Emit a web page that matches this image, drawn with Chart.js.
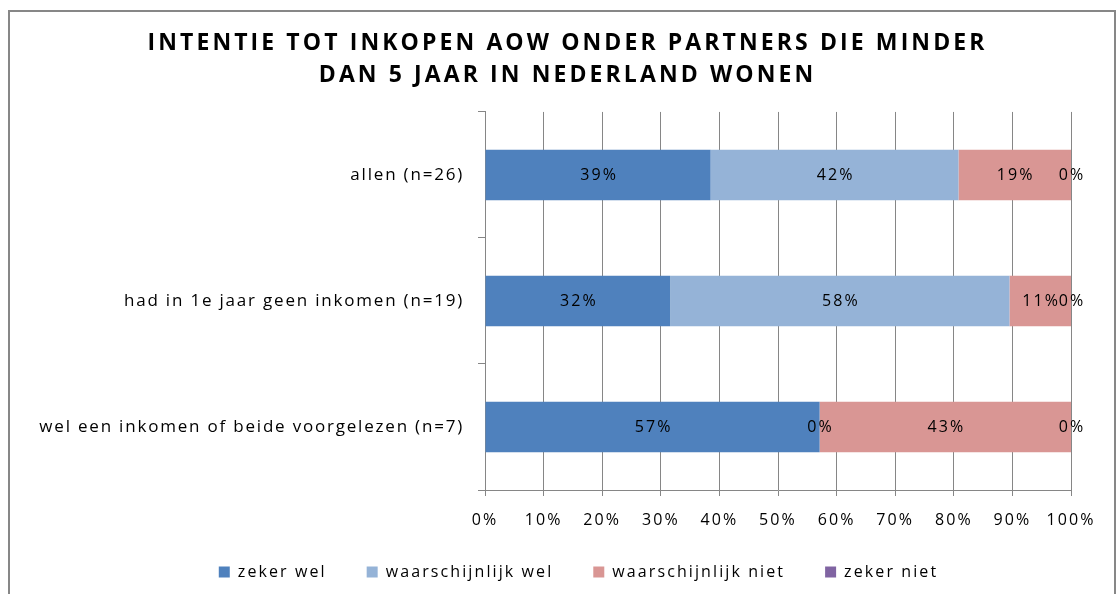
<!DOCTYPE html>
<html>
<head>
<meta charset="utf-8">
<script src="https://cdn.jsdelivr.net/npm/chart.js@4.4.1/dist/chart.umd.min.js"></script>
<style>
  html, body { margin: 0; padding: 0; background: #fff; }
  #wrap { position: relative; width: 1120px; height: 594px; }
</style>
</head>
<body>
<div id="wrap"><canvas id="c" width="1120" height="594"></canvas></div>
<script>
const titleLines = ["INTENTIE TOT INKOPEN AOW ONDER PARTNERS DIE MINDER", "DAN 5 JAAR IN NEDERLAND WONEN"];
const categories = ["allen (n=26)", "had in 1e jaar geen inkomen (n=19)", "wel een inkomen of beide voorgelezen (n=7)"];
const seriesNames = ["zeker wel", "waarschijnlijk wel", "waarschijnlijk niet", "zeker niet"];
const zekerWel = [38.5, 31.6, 57.1];
const waarschijnlijkWel = [42.3, 57.9, 0];
const waarschijnlijkNiet = [19.2, 10.5, 42.9];
const zekerNiet = [0, 0, 0];
const xTicks = [0, 10, 20, 30, 40, 50, 60, 70, 80, 90, 100];
const colors = ["#4F81BD", "#95B3D7", "#D99694", "#8064A2"];

const FONT = "'Open Sans', sans-serif";

// letter spacing per font (the reference text is widely spaced)
function spacingFor(font) {
  const m = /(\d+(?:\.\d+)?)px/.exec(font);
  const size = m ? parseFloat(m[1]) : 12;
  const bold = /bold|700/.test(font);
  if (bold) return '3.1px';
  if (size === 17) return '1.8px';
  if (size === 16) return '2.1px';
  return '0px';
}

const canvas = document.getElementById('c');
const ctx0 = canvas.getContext('2d');
const origFill = ctx0.fillText;
const origMeasure = ctx0.measureText;
ctx0.fillText = function (t, x, y, mw) {
  try { this.letterSpacing = spacingFor(this.font); } catch (e) {}
  return mw === undefined ? origFill.call(this, t, x, y) : origFill.call(this, t, x, y, mw);
};
ctx0.measureText = function (t) {
  try { this.letterSpacing = spacingFor(this.font); } catch (e) {}
  return origMeasure.call(this, t);
};

const framePlugin = {
  id: 'frame',
  beforeDraw(chart) {
    const ctx = chart.ctx;
    ctx.save();
    ctx.strokeStyle = '#878787';
    ctx.lineWidth = 2;
    ctx.strokeRect(9, 11, 1106, 600);
    ctx.restore();
  }
};

// nudge title and legend to where the reference has them
const placePlugin = {
  id: 'place',
  afterLayout(chart) {
    const t = chart.titleBlock;
    if (t) { t.left += 26; t.right += 26; }
    const lg = chart.legend;
    if (lg) { lg.left += 37; lg.right += 37; lg.top = 524; lg.bottom = 590; }
  }
};

const labelPlugin = {
  id: 'barLabels',
  afterDatasetsDraw(chart) {
    const ctx = chart.ctx;
    ctx.save();
    ctx.font = "16px " + FONT;
    ctx.fillStyle = '#000';
    ctx.textAlign = 'center';
    ctx.textBaseline = 'middle';
    chart.data.datasets.forEach((ds, di) => {
      const meta = chart.getDatasetMeta(di);
      meta.data.forEach((el, i) => {
        const v = ds.data[i];
        const cx = (el.x + el.base) / 2;
        ctx.fillText(Math.round(v) + '%', cx + 1, el.y);
      });
    });
    ctx.restore();
  }
};

const seriesData = [zekerWel, waarschijnlijkWel, waarschijnlijkNiet, zekerNiet];

new Chart(canvas, {
  type: 'bar',
  data: {
    labels: categories,
    datasets: seriesNames.map((n, i) => ({
      label: n,
      data: seriesData[i],
      backgroundColor: colors[i],
      borderWidth: 0,
      barPercentage: 0.4,
      categoryPercentage: 1.0
    }))
  },
  options: {
    indexAxis: 'y',
    responsive: false,
    animation: false,
    layout: { padding: { top: 27, left: 12, right: 49, bottom: 4 } },
    scales: {
      x: {
        stacked: true,
        min: 0, max: 100,
        afterBuildTicks(scale) { scale.ticks = xTicks.map(v => ({ value: v })); },
        afterFit(scale) { scale.height = 41; },
        ticks: {
          callback: v => v + '%',
          font: { family: FONT, size: 16 },
          color: '#000',
          padding: 15,
          maxRotation: 0,
          autoSkip: false
        },
        grid: { color: '#868686', tickLength: 6, lineWidth: 1 },
        border: { color: '#868686' }
      },
      y: {
        stacked: true,
        afterFit(scale) { scale.width = 485 - 12; },
        ticks: {
          font: { family: FONT, size: 17 },
          color: '#000',
          padding: 14
        },
        grid: { offset: true, drawOnChartArea: false, color: '#868686', tickLength: 7 },
        border: { color: '#868686' }
      }
    },
    plugins: {
      title: {
        display: true,
        text: titleLines,
        font: { family: FONT, size: 23, weight: 'bold', lineHeight: 1.39 },
        color: '#000',
        padding: { top: 0, bottom: 21 }
      },
      legend: {
        position: 'bottom',
        maxHeight: 59,
        labels: {
          font: { family: FONT, size: 16 },
          color: '#000',
          boxWidth: 11,
          boxHeight: 11,
          padding: 40
        }
      },
      tooltip: { enabled: false }
    }
  },
  plugins: [framePlugin, placePlugin, labelPlugin]
});
</script>
</body>
</html>
